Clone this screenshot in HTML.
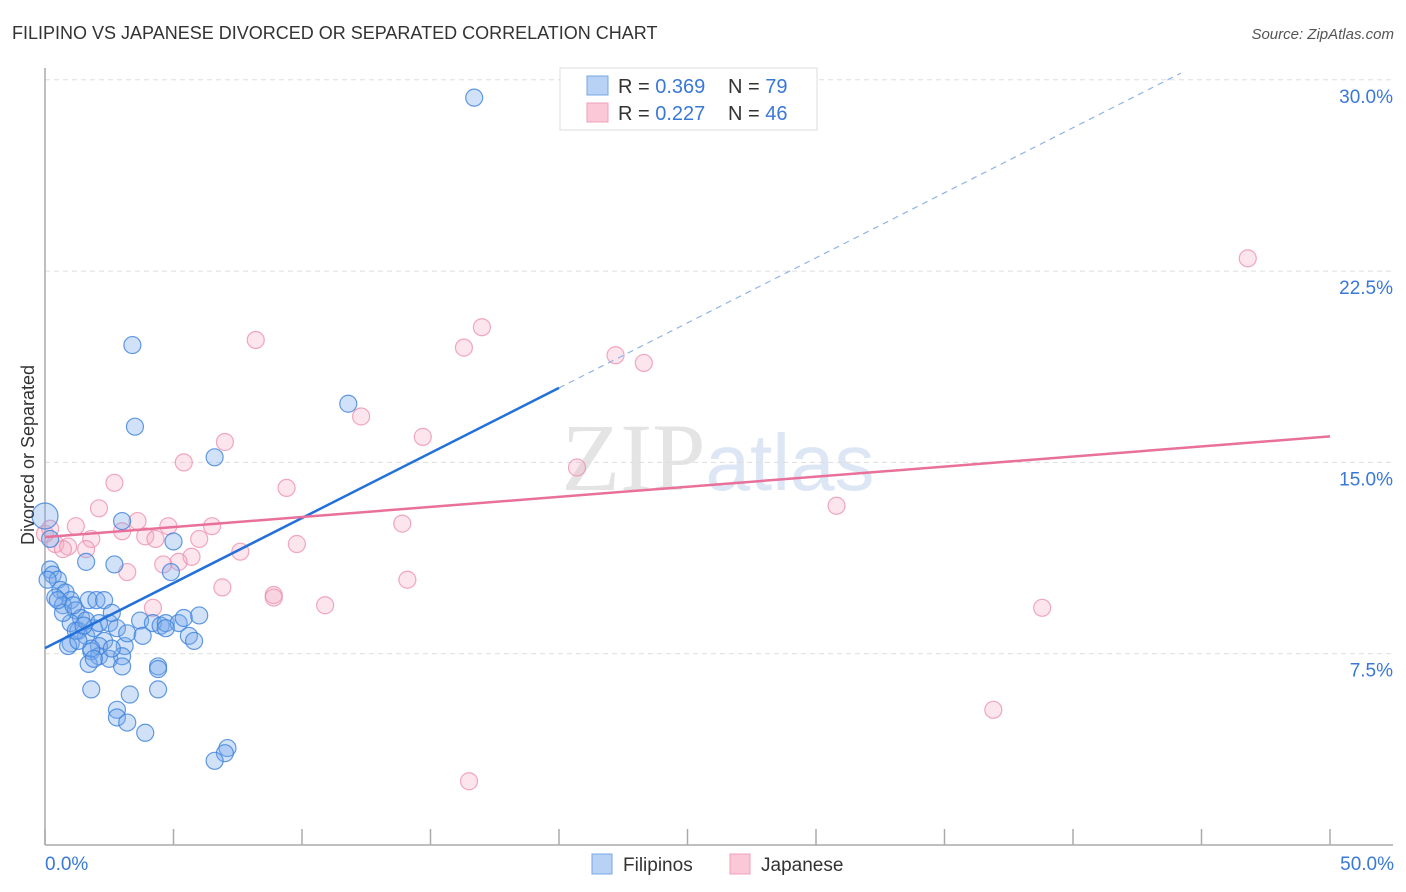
<!DOCTYPE html>
<html><head><meta charset="utf-8"><style>
body{margin:0;background:#fff;font-family:"Liberation Sans",sans-serif;}
svg{display:block}
</style></head><body>
<svg id="chart" width="1406" height="892">
<text x="12" y="39" font-size="18" fill="#333">FILIPINO VS JAPANESE DIVORCED OR SEPARATED CORRELATION CHART</text>
<text x="1394" y="39" font-size="15" fill="#555" font-style="italic" text-anchor="end">Source: ZipAtlas.com</text>
<text x="718" y="490" font-size="96" fill="#e4e4e4" text-anchor="middle" font-family="Liberation Serif">ZIP<tspan fill="#dce6f4" font-family="Liberation Sans" font-size="80">atlas</tspan></text>
<g id="grid"></g>
<g id="axes"></g>
<g id="pts"></g>
<g id="lines"></g>
<text transform="translate(34,455) rotate(-90)" font-size="18" fill="#333" text-anchor="middle">Divorced or Separated</text>
<text x="45" y="870" font-size="19" fill="#3a78d8">0.0%</text>
<text x="1394" y="870" font-size="19" fill="#3a78d8" text-anchor="end">50.0%</text>
<g>
<rect x="560" y="68" width="257" height="62" fill="#fff" stroke="#ddd"/>
<rect x="587" y="76" width="21" height="19" fill="#b7d2f5" stroke="#7aa6e6"/>
<rect x="587" y="103" width="21" height="19" fill="#fac8d6" stroke="#f0a0b8"/>
<text x="618" y="93" font-size="20" fill="#333">R = <tspan fill="#3a78d8">0.369</tspan><tspan x="728">N = </tspan><tspan fill="#3a78d8">79</tspan></text>
<text x="618" y="120" font-size="20" fill="#333">R = <tspan fill="#3a78d8">0.227</tspan><tspan x="728">N = </tspan><tspan fill="#3a78d8">46</tspan></text>
</g>
<g>
<rect x="592" y="854" width="20" height="20" fill="#b7d2f5" stroke="#7aa6e6"/>
<text x="623" y="871" font-size="19" fill="#333">Filipinos</text>
<rect x="730" y="854" width="20" height="20" fill="#fac8d6" stroke="#f0a0b8"/>
<text x="761" y="871" font-size="19" fill="#333">Japanese</text>
</g>
</svg>
<script>
const yTicks=[7.5,15,22.5,30];
const yTickLabels=["7.5%","15.0%","22.5%","30.0%"];
const xTicks=[0,5,10,15,20,25,30,35,40,45,50];
const filX=[16.7,3.4,11.8,3.5,6.6,3.0,5.0,0.0,0.2,2.7,1.6,4.9,0.2,0.3,0.5,0.6,0.8,0.4,1.0,0.7,1.2,1.7,2.0,2.3,1.4,1.0,1.3,1.6,1.9,2.5,2.8,2.3,2.1,1.8,2.1,2.5,3.1,3.2,3.7,3.8,4.2,4.5,4.7,5.2,5.4,6.0,4.7,5.6,5.8,3.0,3.0,4.4,4.4,1.7,1.0,1.8,3.3,4.4,2.8,2.8,3.2,3.9,7.1,7.0,6.6,1.2,1.6,0.7,2.6,0.9,2.1,1.8,1.3,2.6,1.9,1.1,0.1,0.5,1.5];
const filY=[29.3,19.6,17.3,16.4,15.2,12.7,11.9,12.9,12.0,11.0,11.1,10.7,10.8,10.6,10.4,10.0,9.9,9.7,9.6,9.4,9.2,9.6,9.6,9.6,8.9,8.7,8.4,8.2,8.5,8.7,8.5,8.0,7.8,7.6,7.4,7.3,7.8,8.3,8.8,8.2,8.7,8.6,8.7,8.7,8.9,9.0,8.5,8.2,8.0,7.4,7.0,7.0,6.9,7.1,7.9,6.1,5.9,6.1,5.3,5.0,4.8,4.4,3.8,3.6,3.3,8.4,8.8,9.1,9.1,7.8,8.7,7.7,8.0,7.7,7.3,9.4,10.4,9.6,8.6];
const japX=[46.8,17.0,16.3,22.2,23.3,8.2,12.3,14.7,7.0,5.4,20.7,2.7,9.4,2.1,30.8,13.9,1.2,3.6,4.8,6.5,3.0,3.9,4.3,1.8,6.0,9.8,7.6,0.4,0.9,1.6,0.7,0.0,4.6,5.7,5.2,3.2,14.1,6.9,8.9,8.9,10.9,4.2,38.8,36.9,16.5,0.2];
const japY=[23.0,20.3,19.5,19.2,18.9,19.8,16.8,16.0,15.8,15.0,14.8,14.2,14.0,13.2,13.3,12.6,12.5,12.7,12.5,12.5,12.3,12.1,12.0,12.0,12.0,11.8,11.5,11.8,11.7,11.6,11.6,12.2,11.0,11.3,11.1,10.7,10.4,10.1,9.8,9.7,9.4,9.3,9.3,5.3,2.5,12.4];
const filTrend=[7.72,0.51];
const japTrend=[12.07,0.079];
const NS="http://www.w3.org/2000/svg";
const X=v=>45+v/50*1285;
const Y=v=>845-v/7.5*191.3;
function mk(tag,attrs,parent){const e=document.createElementNS(NS,tag);for(const k in attrs)e.setAttribute(k,attrs[k]);parent.appendChild(e);return e;}
const grid=document.getElementById('grid'),axes=document.getElementById('axes'),pts=document.getElementById('pts'),lines=document.getElementById('lines');
yTicks.forEach((t,i)=>{
 const l=mk('line',{x1:45,x2:1393,y1:Y(t),y2:Y(t),stroke:'#ddd','stroke-dasharray':'5,4'},grid);
 
 
 const tx=mk('text',{x:1393,y:Y(t)+23,'font-size':19,fill:'#3a78d8','text-anchor':'end'},grid);
 tx.textContent=yTickLabels[i];
 
 
});
const ya=mk('line',{x1:45,x2:45,y1:68,y2:845,stroke:'#aaa','stroke-width':1.5},axes);


const xa=mk('line',{x1:45,x2:1393,y1:845,y2:845,stroke:'#aaa','stroke-width':1.5},axes);


xTicks.forEach(t=>{
 const l=mk('line',{x1:X(t),x2:X(t),y1:829,y2:845,stroke:'#aaa','stroke-width':1.5},axes);
 
 
});
function dots(xs,ys,fill,stroke,name){
 xs.forEach((x,i)=>{
  const r=(x<0.3&&ys[i]>12.5)?13:8.5;
  const c=mk('circle',{cx:X(x),cy:Y(ys[i]),r:r,fill:fill,stroke:stroke,'stroke-width':1.2},pts);
  
  
 });
}
dots(japX,japY,'rgba(246,170,195,0.3)','rgba(236,140,170,0.75)','japanese-point');
dots(filX,filY,'rgba(120,170,235,0.35)','rgba(60,130,220,0.8)','filipino-point');
const bl=mk('line',{x1:X(0),y1:Y(filTrend[0]),x2:X(20),y2:Y(filTrend[0]+20*filTrend[1]),stroke:'#2270d8','stroke-width':2.5},lines);


const bd=mk('line',{x1:X(20),y1:Y(filTrend[0]+20*filTrend[1]),x2:X(44.2),y2:Y(filTrend[0]+44.2*filTrend[1]),stroke:'#8fb4e6','stroke-width':1.2,'stroke-dasharray':'6,5'},lines);


const pl=mk('line',{x1:X(0),y1:Y(japTrend[0]),x2:X(50),y2:Y(japTrend[0]+50*japTrend[1]),stroke:'#e8709a','stroke-width':2.5},lines);


</script>
</body></html>
